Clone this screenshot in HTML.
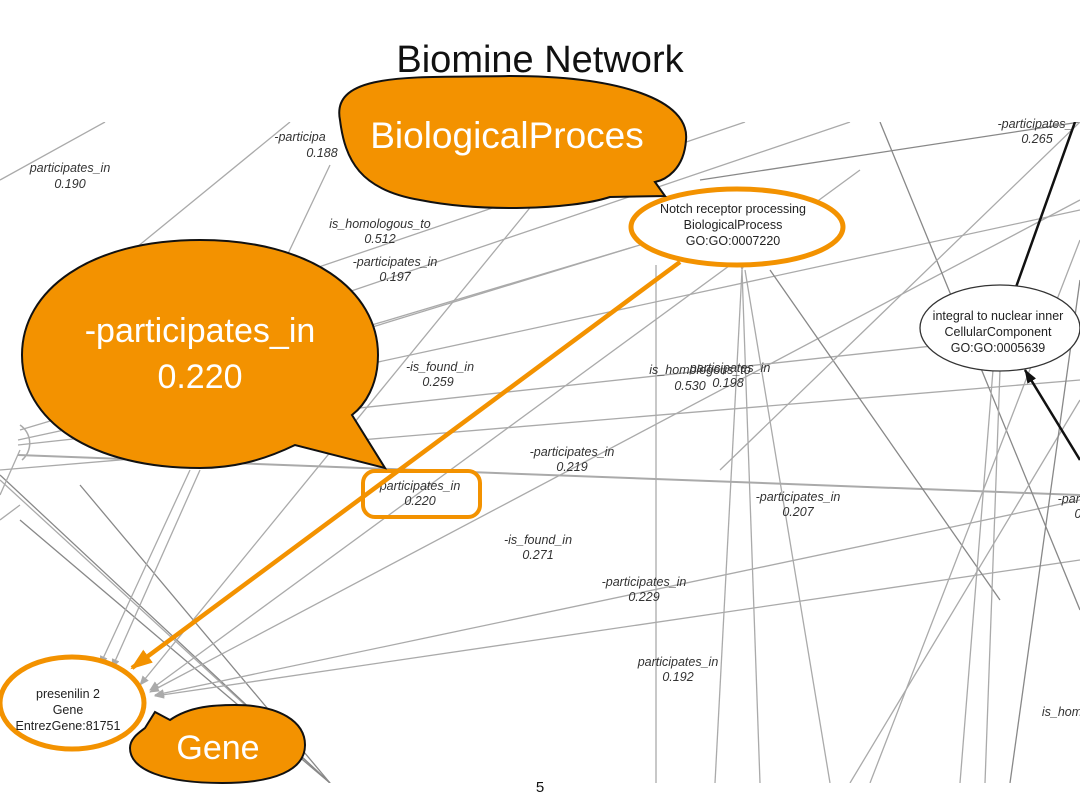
<!DOCTYPE html>
<html><head><meta charset="utf-8"><style>
html,body{margin:0;padding:0;background:#fff;}
svg{display:block;}
.l{font-family:"Liberation Sans",sans-serif;font-size:12.5px;font-style:italic;fill:#333;text-anchor:middle;}
.n{font-family:"Liberation Sans",sans-serif;font-size:12.5px;fill:#222;text-anchor:middle;}
.b{font-family:"Liberation Sans",sans-serif;fill:#fff;text-anchor:middle;}
</style></head><body>
<svg width="1080" height="810" viewBox="0 0 1080 810" xmlns="http://www.w3.org/2000/svg">
<defs>
<clipPath id="c"><rect x="0" y="122" width="1080" height="661"/></clipPath>
<marker id="ga" markerWidth="10" markerHeight="8" refX="9" refY="4" orient="auto" markerUnits="userSpaceOnUse"><path d="M0,0 L10,4 L0,8z" fill="#aaa"/></marker>
<marker id="oa" markerWidth="22" markerHeight="16" refX="20" refY="8" orient="auto" markerUnits="userSpaceOnUse"><path d="M0,0 L22,8 L0,16z" fill="#f39200"/></marker>
<marker id="ba" markerWidth="14" markerHeight="10" refX="13" refY="5" orient="auto" markerUnits="userSpaceOnUse"><path d="M0,0 L14,5 L0,10z" fill="#111"/></marker>
</defs>
<text x="540" y="72" font-family="Liberation Sans,sans-serif" font-size="38" text-anchor="middle" fill="#111">Biomine Network</text>
<g clip-path="url(#c)" stroke="#aaa" stroke-width="1.3" fill="none">
<line x1="0" y1="180" x2="105" y2="122"/>
<line x1="115" y1="265" x2="290" y2="122"/>
<line x1="285" y1="260" x2="330" y2="165"/>
<line x1="310" y1="270" x2="745" y2="122"/>
<line x1="310" y1="305" x2="850" y2="122"/>
<line x1="330" y1="340" x2="630" y2="248"/>
<line x1="20" y1="430" x2="640" y2="245"/>
<line x1="18" y1="440" x2="1080" y2="210"/>
<line x1="18" y1="445" x2="1080" y2="330"/>
<line x1="18" y1="455" x2="1080" y2="495" stroke-width="2"/>
<line x1="0" y1="470" x2="1080" y2="380"/>
<line x1="0" y1="520" x2="20" y2="505"/>
<line x1="0" y1="480" x2="330" y2="783"/>
<line x1="20" y1="520" x2="330" y2="783" stroke="#888"/>
<line x1="0" y1="475" x2="330" y2="783" stroke="#888"/>
<line x1="80" y1="485" x2="330" y2="783" stroke="#888"/>
<line x1="190" y1="470" x2="100" y2="665" marker-end="url(#ga)"/>
<line x1="200" y1="470" x2="112" y2="668" marker-end="url(#ga)"/>
<line x1="600" y1="122" x2="140" y2="685" marker-end="url(#ga)"/>
<line x1="860" y1="170" x2="150" y2="690" marker-end="url(#ga)"/>
<line x1="1080" y1="200" x2="150" y2="692" marker-end="url(#ga)"/>
<line x1="1080" y1="500" x2="155" y2="695" marker-end="url(#ga)"/>
<line x1="1080" y1="560" x2="155" y2="696" marker-end="url(#ga)"/>
<line x1="656" y1="265" x2="656" y2="783"/>
<line x1="742" y1="270" x2="715" y2="783" marker-start="url(#ga)"/>
<line x1="742" y1="270" x2="760" y2="783"/>
<line x1="745" y1="270" x2="830" y2="783"/>
<line x1="770" y1="270" x2="1000" y2="600" stroke="#888"/>
<line x1="880" y1="122" x2="1080" y2="610" stroke="#888"/>
<line x1="700" y1="180" x2="1080" y2="122" stroke="#888"/>
<line x1="720" y1="470" x2="1080" y2="122"/>
<line x1="1080" y1="240" x2="870" y2="783"/>
<line x1="1080" y1="400" x2="850" y2="783"/>
<line x1="993" y1="370" x2="960" y2="783"/>
<line x1="1000" y1="370" x2="985" y2="783"/>
<line x1="1080" y1="280" x2="1010" y2="783" stroke="#888"/>
<line x1="0" y1="495" x2="20" y2="450"/>
</g>
<path d="M20,425 A22,22 0 0 1 22,460" stroke="#aaa" stroke-width="1.5" fill="none"/>
<g clip-path="url(#c)">
<line x1="1015" y1="290" x2="1075" y2="122" stroke="#111" stroke-width="2.5"/>
<line x1="1080" y1="460" x2="1025" y2="370" stroke="#111" stroke-width="2.5" marker-end="url(#ba)"/>
</g>
<g class="l">
<text x="70" y="172">participates_in</text><text x="70" y="188">0.190</text>
<text x="300" y="141">-participa</text><text x="322" y="157">0.188</text>
<text x="380" y="228">is_homologous_to</text><text x="380" y="243">0.512</text>
<text x="395" y="266">-participates_in</text><text x="395" y="281">0.197</text>
<text x="440" y="371">-is_found_in</text><text x="438" y="386">0.259</text>
<text x="700" y="374">is_homologous_to</text><text x="690" y="390">0.530</text>
<text x="730" y="372">participates_in</text><text x="728" y="387">0.198</text>
<text x="572" y="456">-participates_in</text><text x="572" y="471">0.219</text>
<text x="420" y="490">participates_in</text><text x="420" y="505">0.220</text>
<text x="798" y="501">-participates_in</text><text x="798" y="516">0.207</text>
<text x="538" y="544">-is_found_in</text><text x="538" y="559">0.271</text>
<text x="644" y="586">-participates_in</text><text x="644" y="601">0.229</text>
<text x="678" y="666">participates_in</text><text x="678" y="681">0.192</text>
<text x="1035" y="128">-participates_</text><text x="1037" y="143">0.265</text>
<text x="1075" y="503">-partic</text><text x="1078" y="518">0</text>
<text x="1062" y="716">is_hom</text>
</g>
<path d="M680,262 L132,668" stroke="#f39200" stroke-width="4.5" marker-end="url(#oa)"/>
<ellipse cx="737" cy="227" rx="106" ry="38" fill="#fff" stroke="#f39200" stroke-width="5"/>
<g class="n"><text x="733" y="213">Notch receptor processing</text><text x="733" y="229">BiologicalProcess</text><text x="733" y="245">GO:GO:0007220</text></g>
<ellipse cx="1000" cy="328" rx="80" ry="43" fill="#fff" stroke="#333" stroke-width="1.3"/>
<g class="n"><text x="998" y="320">integral to nuclear inner</text><text x="998" y="336">CellularComponent</text><text x="998" y="352">GO:GO:0005639</text></g>
<rect x="363" y="471" width="117" height="46" rx="12" fill="none" stroke="#f39200" stroke-width="4"/>
<ellipse cx="72" cy="703" rx="72" ry="46" fill="#fff" stroke="#f39200" stroke-width="5"/>
<g class="n"><text x="68" y="698">presenilin 2</text><text x="68" y="714">Gene</text><text x="68" y="730">EntrezGene:81751</text></g>
<!-- bubbles -->
<path d="M340,120 C330,70 420,78 510,76 C620,76 690,100 686,140 C684,170 665,180 655,182 L665,196 L610,197 C570,210 480,212 420,200 C360,190 345,160 340,120 Z" fill="#f39200" stroke="#111" stroke-width="2"/>
<text class="b" x="507" y="148" font-size="37">BiologicalProces</text>
<path d="M200,240 C310,240 378,290 378,355 C378,385 365,405 352,415 L385,468 L295,445 C260,462 230,468 200,468 C90,468 22,420 22,355 C22,290 90,240 200,240 Z" fill="#f39200" stroke="#111" stroke-width="2"/>
<text class="b" x="200" y="342" font-size="34">-participates_in</text>
<text class="b" x="200" y="388" font-size="34">0.220</text>
<path d="M155,712 L170,720 C190,706 215,705 235,705 C280,705 305,722 305,745 C305,770 275,783 222,783 C165,783 130,770 130,748 C130,738 140,732 145,728 Z" fill="#f39200" stroke="#111" stroke-width="2"/>
<text class="b" x="218" y="759" font-size="34">Gene</text>
<text x="540" y="792" font-family="Liberation Sans,sans-serif" font-size="15" text-anchor="middle" fill="#111">5</text>
</svg>
</body></html>
